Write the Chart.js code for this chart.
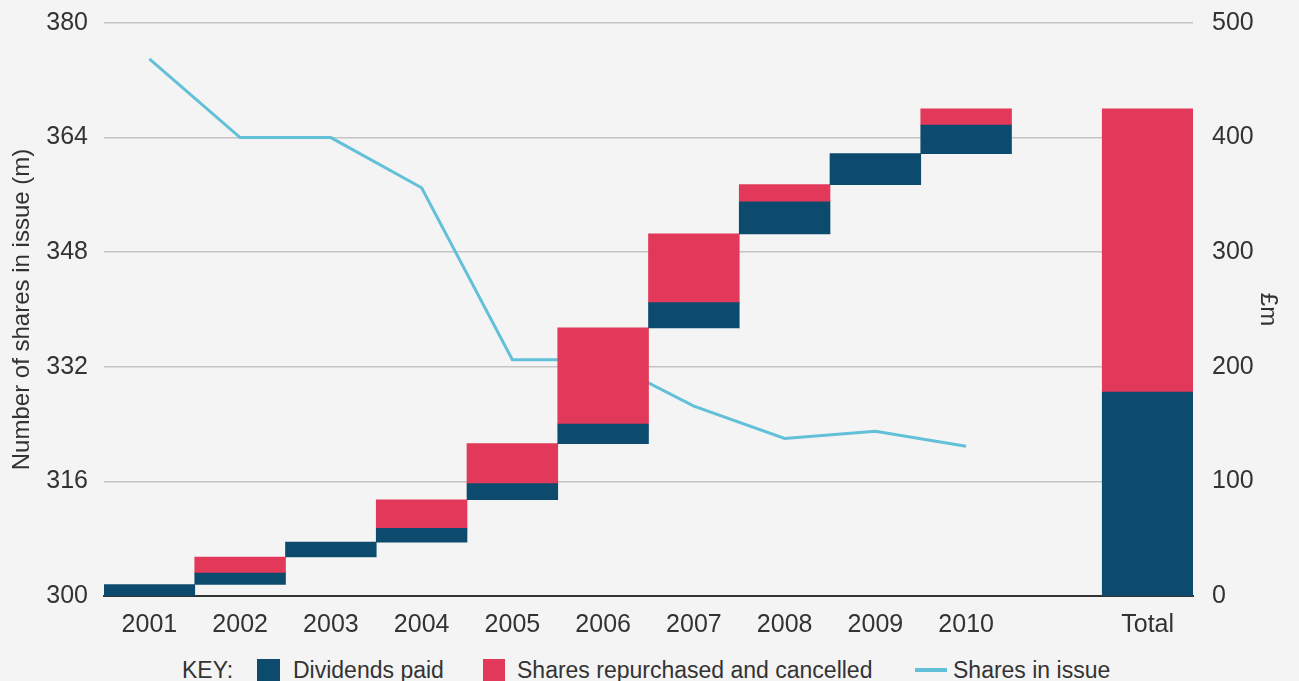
<!DOCTYPE html>
<html>
<head>
<meta charset="utf-8">
<script src="https://cdn.jsdelivr.net/npm/chart.js@4"></script>
<style>
    body { margin: 0; background: #f4f4f4; font-family: "Liberation Sans", Arial, sans-serif; }
    #wrap { position: relative; width: 1299px; height: 681px; overflow: hidden; }
    #box { position: absolute; left: 0; top: -11px; width: 1299px; height: 661px; }
    .key { position: absolute; top: 657px; height: 26px; line-height: 26px; font-size: 23px; color: #333; white-space: nowrap; }
    .sw { position: absolute; top: 659px; width: 23px; height: 23px; }
</style>
</head>
<body>
<div id="wrap">
    <div id="box"><canvas id="chart"></canvas></div>
    <div class="key" style="left:182px">KEY:</div>
    <div class="sw" style="left:257px;background:#0d4b6e"></div>
    <div class="key" style="left:293px">Dividends paid</div>
    <div class="sw" style="left:483px;width:22px;background:#e2385a"></div>
    <div class="key" style="left:517px">Shares repurchased and cancelled</div>
    <div class="sw" style="left:915px;top:668px;width:32px;height:4px;background:#62c0d8"></div>
    <div class="key" style="left:953px">Shares in issue</div>
</div>
<script>
// categories
const years = ['2001', '2002', '2003', '2004', '2005', '2006', '2007', '2008', '2009', '2010'];
const labels = years.concat(['', 'Total']);

// £m paid out each year (right axis)
const dividends = [10, 10, 13, 12, 14, 17, 22, 28, 27, 25];
const buybacks = [0, 14, 0, 25, 35, 84, 60, 15, 0, 14];

// shares in issue, millions (left axis)
const sharesInIssue = [375, 364, 364, 357, 333, 333, 326.5, 322, 323, 320.9];

// axis ticks
const leftTicks = [300, 316, 332, 348, 364, 380];
const rightTicks = [0, 100, 200, 300, 400, 500];

// build waterfall ranges
let running = 0;
const divBars = [];
const buyBars = [];
years.forEach((y, i) => {
    const d0 = running;
    running += dividends[i];
    divBars.push([d0, running]);
    const b0 = running;
    running += buybacks[i];
    buyBars.push(buybacks[i] ? [b0, running] : null);
});
const totalDiv = dividends.reduce((a, b) => a + b, 0);
const totalBuy = buybacks.reduce((a, b) => a + b, 0);
divBars.push(null, [0, totalDiv]);
buyBars.push(null, [totalDiv, totalDiv + totalBuy]);

const txt = '#333333';
const fam = '"Liberation Sans", Arial, sans-serif';

new Chart(document.getElementById('chart'), {
    type: 'bar',
    data: {
        labels: labels,
        datasets: [
            {
                type: 'line',
                label: 'Shares in issue',
                data: sharesInIssue,
                yAxisID: 'yL',
                borderColor: '#62c0d8',
                borderWidth: 3,
                pointRadius: 0,
                tension: 0,
                order: 3
            },
            {
                label: 'Dividends paid',
                data: divBars,
                yAxisID: 'yR',
                backgroundColor: '#0d4b6e',
                grouped: false,
                barPercentage: 1,
                categoryPercentage: 1,
                order: 1
            },
            {
                label: 'Shares repurchased and cancelled',
                data: buyBars,
                yAxisID: 'yR',
                backgroundColor: '#e2385a',
                grouped: false,
                barPercentage: 1,
                categoryPercentage: 1,
                order: 2
            }
        ]
    },
    options: {
        responsive: true,
        maintainAspectRatio: false,
        animation: false,
        layout: { padding: { top: 8, bottom: 0, left: 0, right: 0 } },
        plugins: {
            legend: { display: false },
            tooltip: { enabled: false }
        },
        scales: {
            x: {
                grid: { display: false, drawTicks: false },
                border: { display: true, color: '#333', width: 2 },
                ticks: { color: txt, font: { family: fam, size: 25 }, padding: 14, maxRotation: 0 },
                afterFit: function(s) { s.height = 54; }
            },
            yL: {
                position: 'left',
                min: 300,
                max: 380,
                afterBuildTicks: function(s) { s.ticks = leftTicks.map(v => ({ value: v })); },
                grid: { color: '#c4c4c4', lineWidth: 1.5, drawTicks: false },
                border: { display: false },
                ticks: { color: txt, font: { family: fam, size: 25 }, padding: 16 },
                title: {
                    display: true,
                    text: 'Number of shares in issue (m)',
                    color: txt,
                    font: { family: fam, size: 24 },
                    padding: { top: 8, bottom: 0 }
                },
                afterFit: function(s) { s.width = 104; }
            },
            yR: {
                position: 'right',
                min: 0,
                max: 500,
                afterBuildTicks: function(s) { s.ticks = rightTicks.map(v => ({ value: v })); },
                grid: { display: false, drawTicks: false },
                border: { display: false },
                ticks: { color: txt, font: { family: fam, size: 25 }, padding: 19 },
                title: {
                    display: true,
                    text: '£m',
                    color: txt,
                    font: { family: fam, size: 24 },
                    padding: { top: 17, bottom: 0 }
                },
                afterFit: function(s) { s.width = 106; }
            }
        }
    }
});
</script>
</body>
</html>
